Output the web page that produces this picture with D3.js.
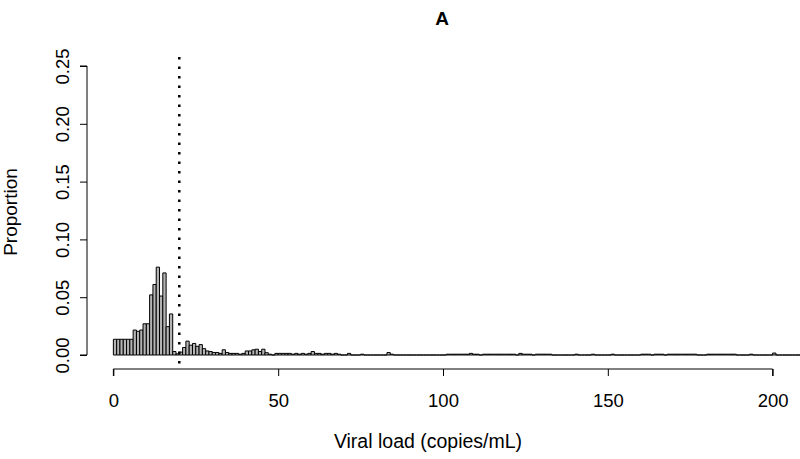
<!DOCTYPE html>
<html>
<head>
<meta charset="utf-8">
<script src="https://cdn.jsdelivr.net/npm/d3@7"></script>
<style>
  body { margin: 0; background: #fff; }
  svg { display: block; font-family: "Liberation Sans", Arial, sans-serif; }
</style>
</head>
<body>
<svg id="chart" width="800" height="459"></svg>
<script>
// histogram of viral load, bins of width 1 copy/mL starting at 0
const binStart = 0;
const binWidth = 1;
const proportion = [
  0.0136, 0.0136, 0.0136, 0.0136, 0.0136, 0.0136, 0.0216, 0.0205, 0.0216, 0.027,
  0.027, 0.052, 0.061, 0.076, 0.051, 0.071, 0.0245, 0.0355, 0.003, 0.001,
  0.0025, 0.0065, 0.012, 0.0085, 0.010, 0.0075, 0.009, 0.0055, 0.0035, 0.003,
  0.0022, 0.0022, 0.0014, 0.0045, 0.0022, 0.0014, 0.0014, 0.0014, 0.0007, 0.0014,
  0.0035, 0.0035, 0.0045, 0.005, 0.003, 0.005, 0.002, 0.0007, 0, 0.0014,
  0.0014, 0.0014, 0.0014, 0.0014, 0.0007, 0.0014, 0.0007, 0.0014, 0.0007, 0.0014,
  0.003, 0.0014, 0.0014, 0.0007, 0.0014, 0.0014, 0.0007, 0.0014, 0.0007, 0,
  0, 0.0014, 0, 0, 0, 0.0007, 0, 0, 0, 0,
  0, 0, 0, 0.0021, 0.0007, 0, 0, 0, 0, 0,
  0, 0, 0, 0, 0, 0, 0, 0, 0, 0,
  0, 0.0007, 0.0007, 0.0007, 0.0007, 0.0007, 0.0007, 0.0007, 0.0014, 0.0007,
  0.0007, 0, 0.0007, 0.0007, 0.0007, 0.0007, 0.0007, 0.0007, 0.0007, 0.0007,
  0.0007, 0.0007, 0, 0.0014, 0.0007, 0.0007, 0.0007, 0, 0.0007, 0.0007,
  0.0007, 0.0007, 0.0007, 0, 0, 0, 0, 0, 0, 0,
  0.0007, 0, 0, 0, 0, 0.0007, 0, 0, 0, 0,
  0, 0.0007, 0, 0, 0, 0, 0, 0, 0, 0,
  0.0007, 0.0007, 0.0007, 0, 0.0007, 0.0007, 0.0007, 0, 0.0007, 0.0007,
  0.0007, 0.0007, 0.0007, 0.0007, 0.0007, 0.0007, 0.0007, 0, 0, 0,
  0.0007, 0.0007, 0.0007, 0.0007, 0.0007, 0.0007, 0.0007, 0.0007, 0.0007, 0,
  0, 0, 0, 0.0007, 0, 0, 0, 0, 0, 0,
  0.0017, 0, 0, 0, 0, 0, 0, 0, 0, 0
];
const xTicks = [0, 50, 100, 150, 200];
const yTicks = [0, 0.05, 0.10, 0.15, 0.20, 0.25];
const cutoff = 20;
const title = "A";
const xLabel = "Viral load (copies/mL)";
const yLabel = "Proportion";

const bins = proportion.map((p, i) => ({
  x0: binStart + i * binWidth,
  x1: binStart + (i + 1) * binWidth,
  p: p
}));

const svg = d3.select('#chart');

// plot region follows R's 4% padding around xlim = c(0, 200)
const x = d3.scaleLinear().domain([-8, 208]).range([87, 799]);
const y = d3.scaleLinear().domain([0, 0.25]).range([355, 66]);

svg.append('clipPath').attr('id', 'plotclip')
   .append('rect').attr('x', 87).attr('y', 40).attr('width', 713).attr('height', 340);

const plot = svg.append('g').attr('clip-path', 'url(#plotclip)');

// paths so that empty bins still show their outline on the baseline
plot.selectAll('path.bar')
    .data(bins)
    .enter()
    .append('path')
    .attr('class', 'bar')
    .attr('d', d => `M${x(d.x0)},${y(0)}V${y(d.p)}H${x(d.x1)}V${y(0)}Z`)
    .attr('fill', '#b4b4b4')
    .attr('stroke', '#000')
    .attr('stroke-width', 1);

plot.append('line')
    .attr('x1', x(cutoff)).attr('x2', x(cutoff))
    .attr('y1', 57).attr('y2', 370)
    .attr('stroke', '#000')
    .attr('stroke-width', 2.5)
    .attr('stroke-dasharray', '2.5 7');

// x axis (only spans the tick range like R)
const xAxis = svg.append('g')
    .attr('transform', 'translate(0,369)')
    .call(d3.axisBottom(x).tickValues(xTicks).tickSize(7).tickPadding(18).tickFormat(d3.format('d')));
xAxis.select('.domain').attr('d', `M${x(0)},7V0H${x(200)}V7`);

const yAxis = svg.append('g')
    .attr('transform', 'translate(87,0)')
    .call(d3.axisLeft(y).tickValues(yTicks).tickSize(7).tickFormat(d3.format('.2f')));
yAxis.select('.domain').attr('d', `M-7,${y(0)}H0V${y(0.25)}H-7`);
yAxis.selectAll('.tick text')
    .attr('transform', 'rotate(-90)')
    .attr('x', 0)
    .attr('y', -18)
    .attr('dy', 0)
    .attr('text-anchor', 'middle');

svg.selectAll('.tick text').attr('font-size', 18.5).attr('fill', '#000')
   .attr('font-family', '"Liberation Sans", Arial, sans-serif');
svg.selectAll('.tick line, .domain').attr('stroke', '#000');

svg.append('text')
    .attr('x', 442).attr('y', 25)
    .attr('text-anchor', 'middle')
    .attr('font-weight', 'bold')
    .attr('font-size', 19)
    .text(title);

svg.append('text')
    .attr('x', 428).attr('y', 448)
    .attr('text-anchor', 'middle')
    .attr('font-size', 19.5)
    .text(xLabel);

svg.append('text')
    .attr('transform', 'translate(17,212) rotate(-90)')
    .attr('text-anchor', 'middle')
    .attr('font-size', 19)
    .text(yLabel);
</script>
</body>
</html>
